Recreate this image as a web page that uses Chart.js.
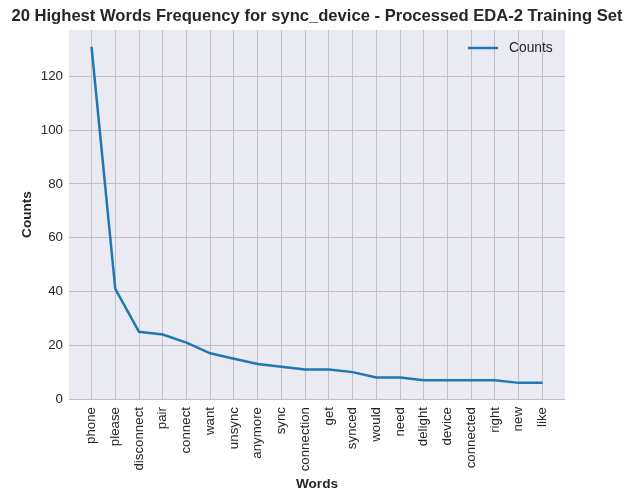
<!DOCTYPE html>
<html>
<head>
<meta charset="utf-8">
<script src="https://cdn.jsdelivr.net/npm/chart.js"></script>
<style>
  html, body { margin: 0; padding: 0; background: #fff; }
  #wrap { width: 633px; height: 501px; }
</style>
</head>
<body>
<div id="wrap"><canvas id="wordChart" width="633" height="501"></canvas></div>
<script>
const words = ["phone", "please", "disconnect", "pair", "connect", "want", "unsync", "anymore",
  "sync", "connection", "get", "synced", "would", "need", "delight", "device", "connected",
  "right", "new", "like"];
const counts = [131, 41, 25, 24, 21, 17, 15, 13, 12, 11, 11, 10, 8, 8, 7, 7, 7, 7, 6, 6];
const yTicks = [0, 20, 40, 60, 80, 100, 120];

const titleText = "20 Highest Words Frequency for sync_device - Processed EDA-2 Training Set";
const FONT = "'Liberation Sans', Arial, sans-serif";
const ink = "#262626";
const gridColor = "#c0c0c0";

// plot background, title and legend drawn by hand so they sit where matplotlib put them
const decor = {
  id: "decor",
  beforeDraw(chart) {
    const { ctx, chartArea: a } = chart;
    ctx.save();
    ctx.fillStyle = "#eaeaf2";
    ctx.fillRect(a.left, a.top, a.right - a.left, a.bottom - a.top);
    ctx.restore();
  },
  afterDraw(chart) {
    const { ctx, chartArea: a } = chart;
    ctx.save();
    ctx.fillStyle = ink;
    ctx.font = "bold 16.6px " + FONT;
    ctx.textAlign = "center";
    ctx.textBaseline = "middle";
    ctx.fillText(titleText, (a.left + a.right) / 2, 16);

    const ds = chart.data.datasets[0];
    ctx.strokeStyle = ds.borderColor;
    ctx.lineWidth = 2.5;
    ctx.beginPath();
    ctx.moveTo(468, 48);
    ctx.lineTo(498, 48);
    ctx.stroke();
    ctx.font = "13.8px " + FONT;
    ctx.textAlign = "left";
    ctx.fillText(ds.label, 509, 48);
    ctx.restore();
  }
};

new Chart(document.getElementById("wordChart"), {
  type: "line",
  data: {
    datasets: [{
      label: "Counts",
      data: counts.map((v, i) => ({ x: i, y: v })),
      borderColor: "#1f77b4",
      borderWidth: 2.5,
      pointRadius: 0,
      tension: 0,
      fill: false
    }]
  },
  options: {
    responsive: false,
    animation: false,
    devicePixelRatio: 1,
    layout: { padding: { top: 30, right: 68, left: 0, bottom: 0 } },
    plugins: {
      legend: { display: false },
      title: { display: false },
      tooltip: { enabled: false }
    },
    scales: {
      x: {
        type: "linear",
        min: -0.95,
        max: words.length - 1 + 0.95,
        afterBuildTicks: s => { s.ticks = words.map((_, i) => ({ value: i })); },
        afterFit: s => { s.height = 102; },
        border: { display: false },
        grid: { color: gridColor, lineWidth: 1, drawTicks: false },
        ticks: {
          autoSkip: false,
          maxRotation: 90,
          minRotation: 90,
          padding: 8,
          color: ink,
          font: { family: FONT, size: 13.3 },
          callback: v => words[v]
        },
        title: {
          display: true,
          text: "Words",
          color: ink,
          font: { family: FONT, size: 13.6, weight: "bold" },
          padding: { top: 0, bottom: 9 }
        }
      },
      y: {
        min: 0,
        max: 137.25,
        afterBuildTicks: s => { s.ticks = yTicks.map(v => ({ value: v })); },
        afterFit: s => { s.width = 69; },
        border: { display: false },
        grid: { color: gridColor, lineWidth: 1, drawTicks: false },
        ticks: {
          padding: 6,
          color: ink,
          font: { family: FONT, size: 13.3 }
        },
        title: {
          display: true,
          text: "Counts",
          color: ink,
          font: { family: FONT, size: 13.6, weight: "bold" },
          padding: { top: 19, bottom: 0 }
        }
      }
    }
  },
  plugins: [decor]
});
</script>
</body>
</html>
